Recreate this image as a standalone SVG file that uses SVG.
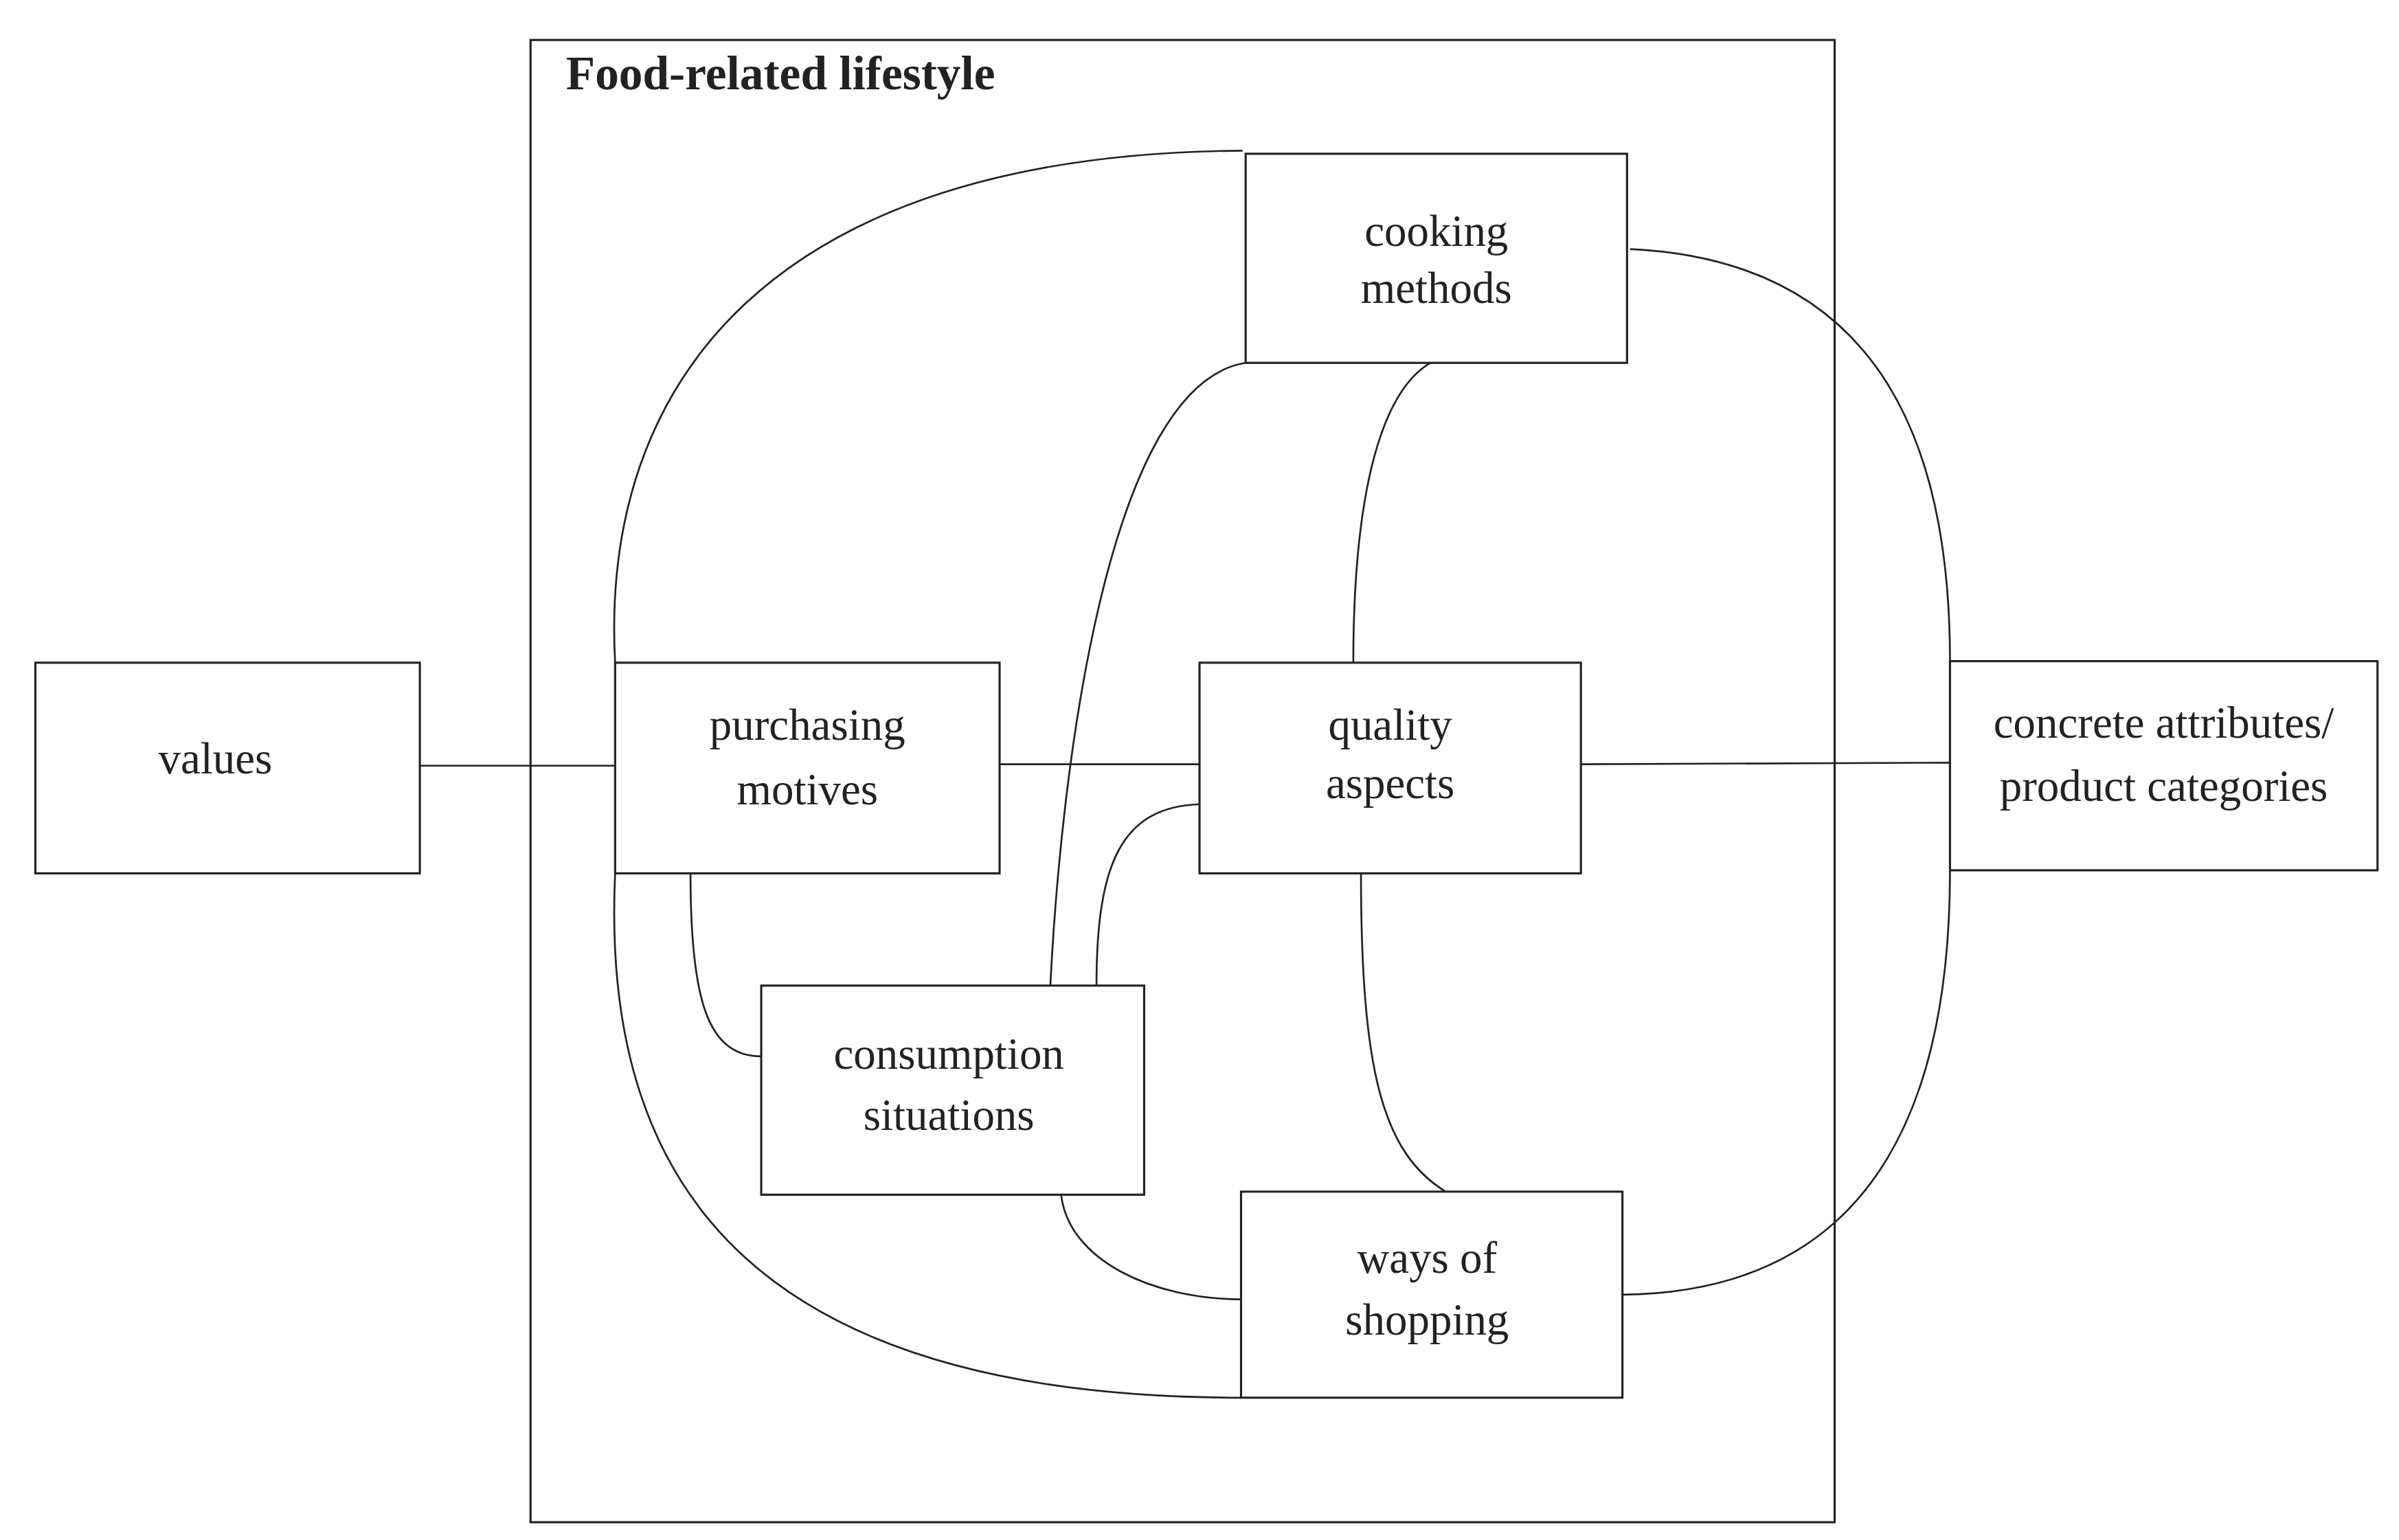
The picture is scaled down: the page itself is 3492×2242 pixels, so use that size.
<svg xmlns="http://www.w3.org/2000/svg" width="3492" height="2242" viewBox="0 0 3492 2242">
<style>
.b{fill:#fff;stroke:#222;stroke-width:1.4}
.c{fill:none;stroke:#222;stroke-width:1.2}
text{font-family:"Liberation Serif",serif;font-size:29px;fill:#222;text-anchor:middle}
</style>
<rect width="3492" height="2242" fill="#fff"/>
<g transform="scale(2.2385)">
<g id="frame"><rect x="345" y="26" width="848" height="964" fill="none" stroke="#222" stroke-width="1.4"/>
<text x="368" y="58" style="text-anchor:start;font-weight:bold;font-size:31px">Food-related lifestyle</text></g>
<g id="connectors">
<path class="c" d="M273 498H400"/>
<path class="c" d="M650 497H780"/>
<path class="c" d="M1028 497L1268 496"/>
<path class="c" d="M400 431C390 250 500 100 808 98"/>
<path class="c" d="M400 568C390 780 500 909 807 909"/>
<path class="c" d="M1060 162C1230 170 1268 300 1268 430"/>
<path class="c" d="M1055 842C1230 840 1268 700 1268 566"/>
<path class="c" d="M810 236C720 250 690 500 683 641"/>
<path class="c" d="M930 236C890 260 880 350 880 431"/>
<path class="c" d="M885 568C885 700 900 750 940 775"/>
<path class="c" d="M780 523C730 525 713 560 713 641"/>
<path class="c" d="M449 568C449 650 460 687 495 687"/>
<path class="c" d="M690 777C695 820 750 845 807 845"/>
</g>
<g id="values"><rect class="b" x="23" y="431" width="250" height="137"/><text x="140" y="503">values</text></g>
<g id="purchasing"><rect class="b" x="400" y="431" width="250" height="137"/><text x="525" y="481">purchasing</text><text x="525" y="523">motives</text></g>
<g id="quality"><rect class="b" x="780" y="431" width="248" height="137"/><text x="904" y="481">quality</text><text x="904" y="519">aspects</text></g>
<g id="concrete"><rect class="b" x="1268" y="430" width="278" height="136"/><text x="1407" y="480">concrete attributes/</text><text x="1407" y="521">product categories</text></g>
<g id="cooking"><rect class="b" x="810" y="100" width="248" height="136"/><text x="934" y="160">cooking</text><text x="934" y="197">methods</text></g>
<g id="consumption"><rect class="b" x="495" y="641" width="249" height="136"/><text x="617" y="695">consumption</text><text x="617" y="735">situations</text></g>
<g id="ways"><rect class="b" x="807" y="775" width="248" height="134"/><text x="928" y="828">ways of</text><text x="928" y="868">shopping</text></g>
</g>
</svg>
